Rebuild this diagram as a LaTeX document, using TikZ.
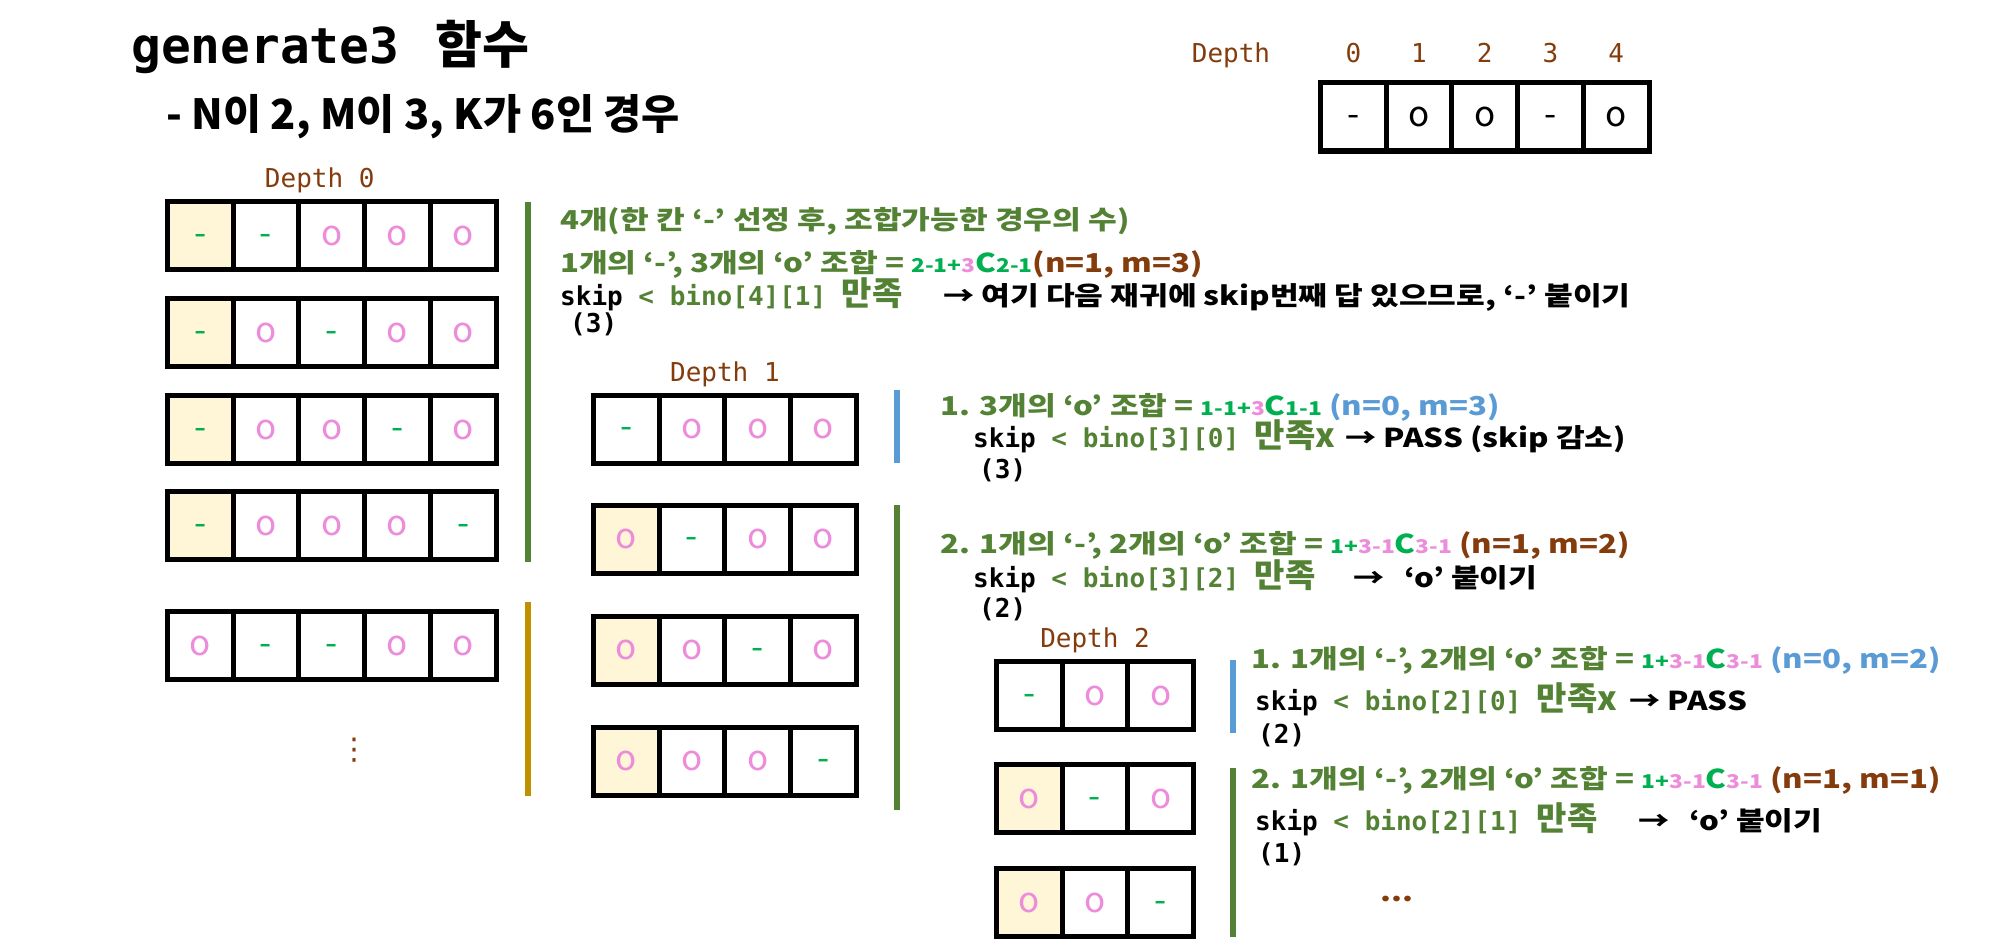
\documentclass[tikz,border=0pt]{standalone}
\usepackage{fontspec}
\setmainfont{Noto Sans CJK KR}
\newfontfamily\krw{Noto Sans CJK KR}[FakeStretch=1.2]
\newfontfamily\mono{DejaVu Sans Mono}
\newfontfamily\dvs{DejaVu Sans}
\usetikzlibrary{positioning,calc}
\definecolor{dgreen}{RGB}{84,130,53}
\definecolor{bgreen}{RGB}{0,176,80}
\definecolor{pinko}{RGB}{236,140,218}
\definecolor{brownt}{RGB}{132,60,12}
\definecolor{skyblue}{RGB}{91,155,213}
\definecolor{gold}{RGB}{191,144,0}
\definecolor{cream}{RGB}{255,245,215}
\newcommand{\sz}[1]{\fontsize{#1}{#1}\selectfont}
\newcommand{\mz}[1]{{\rmfamily\bfseries\sz{33}#1}}
\newcommand{\comb}[4]{{\sz{19}\textcolor{bgreen}{#1}\textcolor{pinko}{#2}}\textcolor{bgreen}{C}{\sz{19}\textcolor{#3}{#4}}}
\newcommand{\sym}[1]{\if o#1\textcolor{pinko}{o}\else\textcolor{bgreen}{-}\fi}
\newcommand{\cellrow}[5]{%
  \foreach \s [count=\i] in {#5} {
    \ifnum\i=1 \def\cf{#4}\else\def\cf{white}\fi
    \node[cell,fill=\cf] (#1-\i) at ({#2+65.7*(\i-0.5)},#3) {\sym{\s}};
  }}

\begin{document}
\begin{tikzpicture}[x=1pt,y=-1pt,
    cell/.style={draw,line width=5pt,outer sep=0pt,inner sep=0pt,
                 minimum width=65.7pt,minimum height=68pt,
                 text height=19pt,text depth=0pt,font=\sz{35}},
    txt/.style={anchor=base west,inner sep=0pt,font=\krw\bfseries\sz{26}},
    code/.style={anchor=base west,inner sep=0pt,font=\mono\bfseries\sz{26}},
    lbl/.style={inner sep=0pt,text=brownt,font=\mono\sz{26}},
    vbar/.style={draw=#1,line width=6pt}]
  \useasboundingbox[fill=white] (0,0) rectangle (2002,947);

  \node[anchor=base west,inner sep=0pt] (title) at (131,64)
    {{\mono\bfseries\sz{49.5}generate3}\hspace{36pt}{\bfseries\sz{51}함수}};
  \node[anchor=base west,inner sep=0pt,font=\bfseries\sz{41.5}] (sub) at (166,130)
    {- N이 2, M이 3, K가 6인 경우};

  \foreach \s [count=\i] in {-,o,o,-,o} {
    \node[cell] (ans-\i) at ({1320.5+65.7*(\i-0.5)},117) {\s};
    \node[lbl,above=20pt of ans-\i] (dg-\i) {\number\numexpr\i-1\relax};
  }
  \node[lbl,left=75pt of dg-1.base west,anchor=base east] (deptop) {Depth};

  \cellrow{r0a}{167.5}{235.5}{cream}{-,-,o,o,o}
  \cellrow{r0b}{167.5}{332.5}{cream}{-,o,-,o,o}
  \cellrow{r0c}{167.5}{429.5}{cream}{-,o,o,-,o}
  \cellrow{r0d}{167.5}{525.5}{cream}{-,o,o,o,-}
  \cellrow{r0e}{167.5}{645.5}{white}{o,-,-,o,o}
  \node[lbl,above=8pt of r0a-3,xshift=-12pt] (dep0) {Depth 0};
  \node[text=brownt,font=\dvs\sz{30}] (vdots) at (354,750) {⋮};

  \cellrow{r1a}{593.5}{429}{white}{-,o,o,o}
  \cellrow{r1b}{593.5}{539}{cream}{o,-,o,o}
  \cellrow{r1c}{593.5}{650}{cream}{o,o,-,o}
  \cellrow{r1d}{593.5}{761}{cream}{o,o,o,-}
  \node[lbl,above=8pt of r1a-2.north east] (dep1) {Depth 1};

  \cellrow{r2a}{996.5}{695.5}{white}{-,o,o}
  \cellrow{r2b}{996.5}{798.5}{cream}{o,-,o}
  \cellrow{r2c}{996.5}{902.5}{cream}{o,o,-}
  \node[lbl,above=8pt of r2a-2] (dep2) {Depth 2};

  \draw[vbar=dgreen] ($(r0a-5.north east)+(32,0)$) -- ($(r0d-5.south east)+(32,2.5)$);
  \draw[vbar=gold] ($(r0e-5.north east)+(32,-10)$) -- ($(r0e-5.south east)+(32,116)$);
  \draw[vbar=skyblue] ($(r1a-4.north east)+(41,-5)$) -- ($(r1a-4.south east)+(41,0)$);
  \draw[vbar=dgreen] ($(r1b-4.north east)+(41,0)$) -- ($(r1d-4.south east)+(41,15)$);
  \draw[vbar=skyblue] ($(r2a-3.north east)+(39,-1.5)$) -- ($(r2a-3.south east)+(39,3.5)$);
  \draw[vbar=dgreen] ($(r2b-3.north east)+(39,3.5)$) -- ($(r2c-3.south east)+(39,0)$);

  \node[txt,text=dgreen] (a1) at (560,229) {4개(한 칸 ‘-’ 선정 후, 조합가능한 경우의 수)};
  \node[txt,text=dgreen] (a2) at (560,272)
    {1개의 ‘-’, 3개의 ‘o’ 조합 = \comb{2-1+}{3}{bgreen}{2-1}\textcolor{brownt}{(n=1, m=3)}};
  \node[code] (a3) at (560,305) {skip \textcolor{dgreen}{< bino[4][1] \mz{만족}}};
  \node[txt] (a3r) at (943,305) {→ 여기 다음 재귀에 skip번째 답 있으므로, ‘-’ 붙이기};
  \node[code] (a4) at (570,332) {(3)};

  \node[txt,text=dgreen] (b1) at (940,415)
    {1. 3개의 ‘o’ 조합 = \comb{1-1+}{3}{bgreen}{1-1} \textcolor{skyblue}{(n=0, m=3)}};
  \node[code] (b2) at (973,447) {skip \textcolor{dgreen}{< bino[3][0] \mz{만족x}}};
  \node[txt] (b2r) at (1345,447) {→ PASS (skip 감소)};
  \node[code] (b3) at (979,478) {(3)};

  \node[txt,text=dgreen] (c1) at (940,553)
    {2. 1개의 ‘-’, 2개의 ‘o’ 조합 = \comb{1+}{3-1}{pinko}{3-1} \textcolor{brownt}{(n=1, m=2)}};
  \node[code] (c2) at (973,587) {skip \textcolor{dgreen}{< bino[3][2] \mz{만족}}};
  \node[txt] (c2r) at (1353,587) {→\hspace{20pt}‘o’ 붙이기};
  \node[code] (c3) at (979,617) {(2)};

  \node[txt,text=dgreen] (d1) at (1251,668)
    {1. 1개의 ‘-’, 2개의 ‘o’ 조합 = \comb{1+}{3-1}{pinko}{3-1} \textcolor{skyblue}{(n=0, m=2)}};
  \node[code] (d2) at (1255,710) {skip \textcolor{dgreen}{< bino[2][0] \mz{만족x}}};
  \node[txt] (d2r) at (1629,710) {→ PASS};
  \node[code] (d3) at (1258,743) {(2)};

  \node[txt,text=dgreen] (e1) at (1251,788)
    {2. 1개의 ‘-’, 2개의 ‘o’ 조합 = \comb{1+}{3-1}{pinko}{3-1} \textcolor{brownt}{(n=1, m=1)}};
  \node[code] (e2) at (1255,830) {skip \textcolor{dgreen}{< bino[2][1] \mz{만족}}};
  \node[txt] (e2r) at (1638,830) {→\hspace{20pt}‘o’ 붙이기};
  \node[code] (e3) at (1258,862) {(1)};
  \node[txt,text=brownt] (more) at (1380,901) {...};
\end{tikzpicture}
\end{document}
